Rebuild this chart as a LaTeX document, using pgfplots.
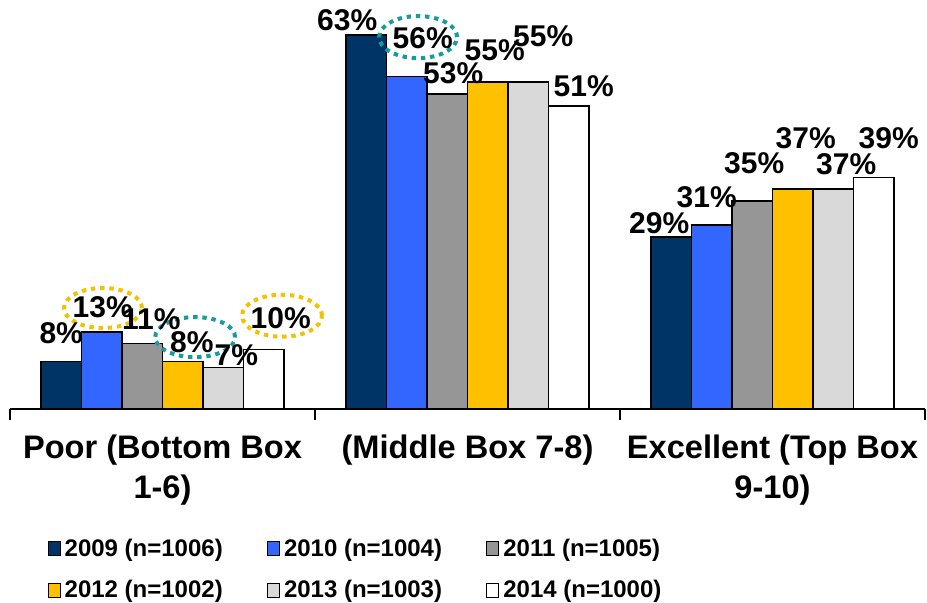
\documentclass[border=0pt]{standalone}
\usepackage{fontspec}
\setmainfont{Liberation Sans}
\usepackage{pgfplots}
\usepackage{pgfplotstable}
\pgfplotsset{compat=1.18}

\definecolor{c2009}{HTML}{003366}
\definecolor{c2010}{HTML}{3366FF}
\definecolor{c2011}{HTML}{969696}
\definecolor{c2012}{HTML}{FFC000}
\definecolor{c2013}{HTML}{D9D9D9}
\definecolor{c2014}{HTML}{FFFFFF}
\definecolor{ringgold}{HTML}{F2C200}
\definecolor{ringteal}{HTML}{169C9C}

% x = category (0 poor, 1 middle, 2 excellent), y = percent, dx/dy = label offset in pt
\pgfplotstableread{
x y dx dy
0 8 0 14.25
1 63 -9.5 7.5
2 29 -6 7
}\tA
\pgfplotstableread{
x y dx dy
0 13 0.5 12.5
1 56 8 19
2 31 -2.5 14
}\tB
\pgfplotstableread{
x y dx dy
0 11 4.5 12
1 53 3 10.5
2 35 1 19
}\tC
\pgfplotstableread{
x y dx dy
0 8 4.5 9.75
1 55 3.5 16
2 37 6.5 25.5
}\tD
\pgfplotstableread{
x y dx dy
0 7 6.5 6
1 55 7.5 23
2 37 6.5 12.5
}\tE
\pgfplotstableread{
x y dx dy
0 10 8.5 15.8
1 51 7.5 10
2 39 7.5 19.5
}\tF

\pgfplotsset{
  lbl/.style={draw=none, fill=none, forget plot,
    point meta=y,
    nodes near coords={\pgfmathprintnumber[assume math mode=true]{\pgfplotspointmeta}\%},
    visualization depends on={\thisrow{dx}\as\dx},
    visualization depends on={\thisrow{dy}\as\dy},
    every node near coord/.append style={anchor=center, inner sep=0pt,
      xshift=\dx pt, yshift=\dy pt,
      font=\fontsize{15}{18}\selectfont\bfseries, text=black}}
}
\tikzset{ring/.style={line width=2pt, dash pattern=on 2.2pt off 2.4pt}}

\begin{document}
\begin{tikzpicture}[font=\bfseries]
\begin{axis}[
  scale only axis, width=457.5pt, height=202pt,
  ymin=0, ymax=68, xmin=-0.5, xmax=2.5,
  ybar, bar width=20.25pt,
  axis x line*=bottom, axis y line=none,
  x axis line style={-, line width=0.8pt},
  xtick={-0.5,0.5,1.5,2.5},
  x tick label as interval,
  xticklabels={{Poor (Bottom Box\\1-6)},{(Middle Box 7-8)},{Excellent (Top Box\\9-10)}},
  xticklabel style={align=center, font=\fontsize{16.3}{20}\selectfont\bfseries, yshift=-4pt},
  major tick length=5.5pt, tick align=outside,
  xtick style={black, line width=0.8pt},
  clip=false,
  legend columns=3,
  legend image code/.code={\draw[#1, line width=0.6pt] (0pt,-3.5pt) rectangle (6pt,3.5pt);},
  legend style={at={(0.034,-0.30)}, anchor=north west, draw=none, fill=none,
    font=\fontsize{12}{14}\selectfont\bfseries, row sep=6.5pt,
    /tikz/every even column/.append style={column sep=20pt}},
  legend cell align=left,
]
\coordinate (o) at (rel axis cs:0,0);
\addplot[fill=c2009, draw=black, line width=0.8pt, bar shift=-50.625pt] table[x=x,y=y] {\tA};
\addlegendentry{2009 (n=1006)}
\addplot[fill=c2010, draw=black, line width=0.8pt, bar shift=-30.375pt] table[x=x,y=y] {\tB};
\addlegendentry{2010 (n=1004)}
\addplot[fill=c2011, draw=black, line width=0.8pt, bar shift=-10.125pt] table[x=x,y=y] {\tC};
\addlegendentry{2011 (n=1005)}
\addplot[fill=c2012, draw=black, line width=0.8pt, bar shift=10.125pt] table[x=x,y=y] {\tD};
\addlegendentry{2012 (n=1002)}
\addplot[fill=c2013, draw=black, line width=0.8pt, bar shift=30.375pt] table[x=x,y=y] {\tE};
\addlegendentry{2013 (n=1003)}
\addplot[fill=c2014, draw=black, line width=0.8pt, bar shift=50.625pt] table[x=x,y=y] {\tF};
\addlegendentry{2014 (n=1000)}

\addplot[lbl, bar shift=-50.625pt] table[x=x,y=y] {\tA};
\addplot[lbl, bar shift=-30.375pt] table[x=x,y=y] {\tB};
\addplot[lbl, bar shift=-10.125pt] table[x=x,y=y] {\tC};
\addplot[lbl, bar shift=10.125pt] table[x=x,y=y] {\tD};
\addplot[lbl, bar shift=30.375pt] table[x=x,y=y] {\tE};
\addplot[lbl, bar shift=50.625pt] table[x=x,y=y] {\tF};

\draw[ring, ringgold] (axis cs:-0.195,17.0) ellipse [x radius=19.5pt, y radius=10pt];
\draw[ring, ringteal] (axis cs:0.107,12.1) ellipse [x radius=20pt, y radius=10pt];
\draw[ring, ringgold] (axis cs:0.392,15.7) ellipse [x radius=20pt, y radius=10.5pt];
\draw[ring, ringteal] (axis cs:0.838,62.6) ellipse [x radius=19.5pt, y radius=10.5pt];
\end{axis}
\pgfresetboundingbox
\path[use as bounding box] ([shift={(-5pt,-96.5pt)}]o) rectangle ([shift={(458.5pt,204.5pt)}]o);
\end{tikzpicture}
\end{document}
